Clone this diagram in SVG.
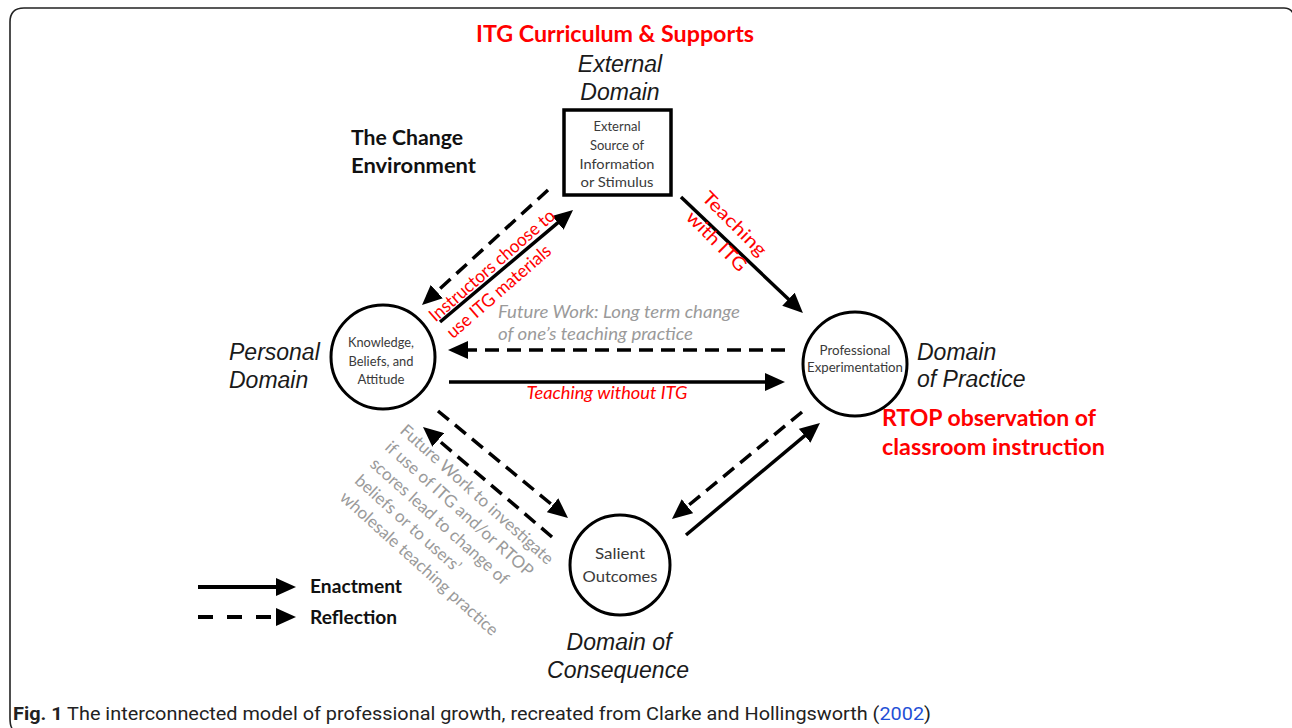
<svg xmlns="http://www.w3.org/2000/svg" width="1292" height="728" viewBox="0 0 1292 728">
<defs>
<marker id="ah" viewBox="0 0 20 18" refX="10" refY="9" markerWidth="20" markerHeight="18" markerUnits="userSpaceOnUse" orient="auto">
<path d="M0,0 L20,9 L0,18 Z" fill="#000"/>
</marker>
<style>
.cal{font-family:Lato,"Open Sans","Liberation Sans",sans-serif;}
.dom{font-family:"Liberation Sans",Arial,sans-serif;font-style:italic;font-size:23px;fill:#1a1a1a;}
.red{fill:#ff0000;}
.redb{fill:#ff0000;font-weight:bold;font-size:22px;}
.blk{fill:#111;font-weight:bold;}
.node{fill:#fff;stroke:#000;stroke-width:3;}
.in{fill:#3a3a3a;text-anchor:middle;}
.gray{fill:#9a9a9a;}
.sol{stroke:#000;stroke-width:3.5;fill:none;marker-end:url(#ah);}
.dsh{stroke:#000;stroke-width:3.5;fill:none;stroke-dasharray:14 8;marker-end:url(#ah);}
</style>
</defs>
<rect width="1292" height="728" fill="#fff"/>
<path d="M12,728 Q10,726 10,718 L10,22 Q10,8 24,8 L1284,8 Q1290,8 1293,13" fill="none" stroke="#222" stroke-width="1.6"/>

<g id="titles">
<text class="cal redb" x="615" y="42" text-anchor="middle" textLength="278" lengthAdjust="spacingAndGlyphs">ITG Curriculum &amp; Supports</text>
<text class="dom" x="620" y="72" text-anchor="middle">External</text>
<text class="dom" x="620" y="100" text-anchor="middle">Domain</text>
<text class="cal blk" x="351" y="145" font-size="21" textLength="112" lengthAdjust="spacingAndGlyphs">The Change</text>
<text class="cal blk" x="351" y="173" font-size="21" textLength="125" lengthAdjust="spacingAndGlyphs">Environment</text>
</g>

<g id="connectors">
<line class="sol" x1="440" y1="322" x2="565.4" y2="216.4"/>
<line class="dsh" x1="548" y1="190" x2="429.4" y2="298.3"/>
<line class="sol" x1="681" y1="197" x2="795.7" y2="306.1"/>
<line class="dsh" x1="785" y1="350" x2="458" y2="350"/>
<line class="sol" x1="449" y1="382" x2="775" y2="382"/>
<line class="dsh" x1="802" y1="412" x2="679.7" y2="512.6"/>
<line class="sol" x1="686" y1="535" x2="812.3" y2="429.4"/>
<line class="dsh" x1="438" y1="411" x2="560.3" y2="511.6"/>
<line class="dsh" x1="552" y1="537" x2="430.6" y2="433.5"/>
</g>

<g id="external-source">
<rect x="564" y="110" width="107" height="85" fill="#fff" stroke="#000" stroke-width="3.5"/>
<g class="cal in" font-size="13">
<text x="617" y="131">External</text>
<text x="617" y="150">Source of</text>
<text x="617" y="169" textLength="75" lengthAdjust="spacingAndGlyphs">Information</text>
<text x="617" y="187" textLength="73" lengthAdjust="spacingAndGlyphs">or Stimulus</text>
</g>
</g>

<g id="personal">
<circle class="node" cx="383" cy="357" r="52"/>
<g class="cal in" font-size="13">
<text x="381" y="347" textLength="66" lengthAdjust="spacingAndGlyphs">Knowledge,</text>
<text x="381" y="366" textLength="65" lengthAdjust="spacingAndGlyphs">Beliefs, and</text>
<text x="381" y="384" textLength="47" lengthAdjust="spacingAndGlyphs">Attitude</text>
</g>
<text class="dom" x="229" y="360">Personal</text>
<text class="dom" x="229" y="388">Domain</text>
</g>

<g id="practice">
<circle class="node" cx="855" cy="364" r="52"/>
<g class="cal in" font-size="13">
<text x="855" y="355" textLength="71" lengthAdjust="spacingAndGlyphs">Professional</text>
<text x="855" y="372" textLength="96" lengthAdjust="spacingAndGlyphs">Experimentation</text>
</g>
<text class="dom" x="917" y="360">Domain</text>
<text class="dom" x="917" y="387">of Practice</text>
<text class="cal redb" x="882" y="426" textLength="214" lengthAdjust="spacingAndGlyphs">RTOP observation of</text>
<text class="cal redb" x="882" y="455" textLength="223" lengthAdjust="spacingAndGlyphs">classroom instruction</text>
</g>

<g id="consequence">
<circle class="node" cx="620" cy="565" r="50"/>
<g class="cal in" font-size="15">
<text x="620" y="559" textLength="50" lengthAdjust="spacingAndGlyphs">Salient</text>
<text x="620" y="582" textLength="75" lengthAdjust="spacingAndGlyphs">Outcomes</text>
</g>
<text class="dom" x="619" y="650" text-anchor="middle">Domain of</text>
<text class="dom" x="618" y="678" text-anchor="middle">Consequence</text>
</g>

<g id="labels" class="cal" font-size="18">
<g transform="translate(496,270) rotate(-41)">
<text class="red" x="0" y="0" text-anchor="middle" textLength="160" lengthAdjust="spacingAndGlyphs">Instructors choose to</text>
<text class="red" x="-12" y="24" text-anchor="middle" textLength="132" lengthAdjust="spacingAndGlyphs">use ITG materials</text>
</g>
<g transform="translate(730,228) rotate(45)">
<text class="red" x="0" y="0" text-anchor="middle" textLength="83" lengthAdjust="spacingAndGlyphs">Teaching</text>
<text class="red" x="0" y="25" text-anchor="middle" textLength="77" lengthAdjust="spacingAndGlyphs">with ITG</text>
</g>
<text class="gray" x="498" y="318" font-style="italic" textLength="242" lengthAdjust="spacingAndGlyphs">Future Work: Long term change</text>
<text class="gray" x="498" y="340" font-style="italic" textLength="195" lengthAdjust="spacingAndGlyphs">of one’s teaching practice</text>
<text class="red" x="607" y="399" font-style="italic" text-anchor="middle" textLength="161" lengthAdjust="spacingAndGlyphs">Teaching without ITG</text>
<g transform="translate(399,432) rotate(42)" class="gray" font-size="17">
<text x="0" y="0">Future Work to investigate</text>
<text x="0" y="22.5">if use of ITG and/or RTOP</text>
<text x="0" y="45">scores lead to change of</text>
<text x="0" y="67.5">beliefs or to users’</text>
<text x="0" y="90">wholesale teaching practice</text>
</g>
</g>

<g id="legend">
<line x1="198" y1="587" x2="286" y2="587" stroke="#000" stroke-width="4" marker-end="url(#ah)"/>
<line x1="198" y1="617" x2="286" y2="617" stroke="#000" stroke-width="4" stroke-dasharray="15 14" marker-end="url(#ah)"/>
<text class="cal blk" x="310" y="593" font-size="18" textLength="92" lengthAdjust="spacingAndGlyphs">Enactment</text>
<text class="cal blk" x="310" y="624" font-size="18" textLength="87" lengthAdjust="spacingAndGlyphs">Reflection</text>
</g>

<g id="caption">
<text x="13" y="720" font-family="Roboto,'Liberation Sans',sans-serif" font-size="18" fill="#222" textLength="918" lengthAdjust="spacingAndGlyphs"><tspan font-weight="bold">Fig. 1</tspan> The interconnected model of professional growth, recreated from Clarke and Hollingsworth (<tspan fill="#1f4fd6">2002</tspan>)</text>
</g>
</svg>
